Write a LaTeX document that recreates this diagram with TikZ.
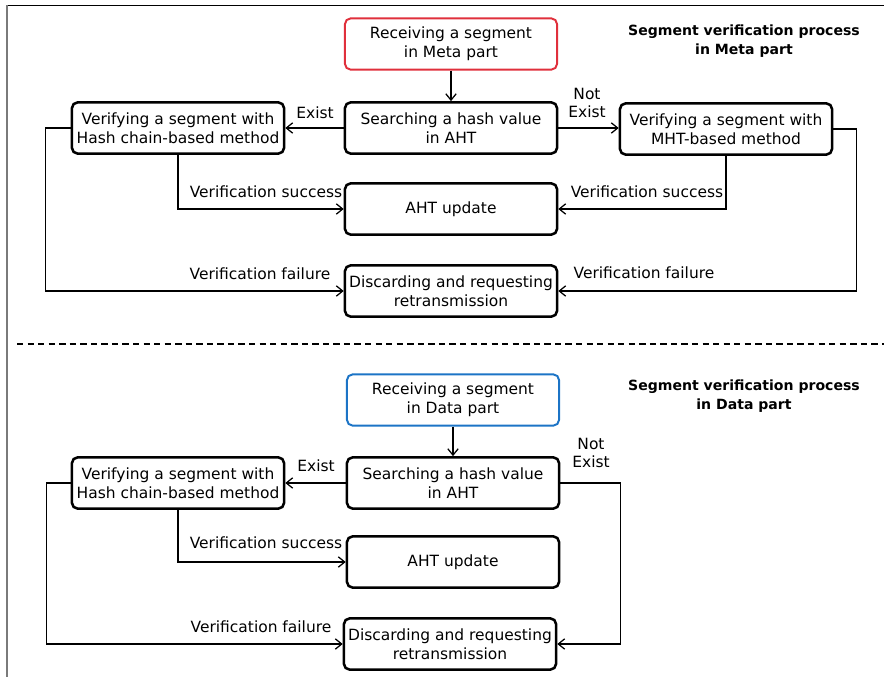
\documentclass[tikz,border=0pt]{standalone}
\usepackage{fontspec}
\setmainfont{DejaVu Sans}
\usetikzlibrary{arrows.meta}
\definecolor{recvred}{HTML}{E0303C}
\definecolor{recvblue}{HTML}{1C74C6}
\definecolor{framegray}{HTML}{7A7A7A}
\tikzset{
  stepbox/.style={rectangle, draw=black, line width=1.8pt, rounded corners=4pt, minimum width=5.3cm, minimum height=1.28cm, align=center, inner sep=1pt, font=\fontsize{11}{13.4}\selectfont},
  recvbox/.style={stepbox, line width=1.4pt},
  arc/.style={-{Straight Barb[length=1.6mm, width=2.6mm, line width=0.9pt]}, draw=black, line width=0.9pt},
  lbl/.style={font=\fontsize{11}{13.4}\selectfont, inner sep=0pt, align=center},
  ttl/.style={font=\fontsize{10}{13}\selectfont\bfseries, inner sep=0pt, align=center},
}
\begin{document}
\begin{tikzpicture}[x=0.025cm,y=-0.025cm]
  \useasboundingbox (0,0) rectangle (884,677);
  % frame and separator
  \draw[black, line width=0.6pt] (6,5) -- (884,5);
  \draw[framegray, line width=1.4pt] (7,5) -- (7,677);
  \draw[black, line width=0.8pt, dash pattern=on 4.5pt off 3pt] (17,344) -- (884,344);

  % Meta part
  \node[ttl] (ttlm) at (744,41) {Segment verification process\\in Meta part};
  \node[recvbox, draw=recvred] (recvm) at (451,44) {Receiving a segment\\in Meta part};
  \node[stepbox] (srchm) at (451,128) {Searching a hash value\\in AHT};
  \node[stepbox] (hashm) at (178,128) {Verifying a segment with\\Hash chain-based method};
  \node[stepbox] (mhtm) at (726,129) {Verifying a segment with\\MHT-based method};
  \node[stepbox] (ahtm) at (451,209) {AHT update};
  \node[stepbox] (discm) at (451,291) {Discarding and requesting\\retransmission};
  \draw[arc] (recvm) -- (srchm);
  \draw[arc] (srchm) -- (hashm);
  \draw[arc] (srchm.east) -- (srchm.east -| mhtm.west);
  \draw[arc] (hashm.south) |- (ahtm.west);
  \draw[arc] (mhtm.south) |- (ahtm.east);
  \draw[arc] (hashm.west) -- ++(-25,0) |- (discm.west);
  \draw[arc] (mhtm.east) -- ++(23,0) |- (discm.east);
  \node[lbl] (exm) at (315,113) {Exist};
  \node[lbl] (nexm) at (587,103) {Not\\Exist};
  \node[lbl] (oklm) at (266,192) {Verification success};
  \node[lbl] (okrm) at (647,192) {Verification success};
  \node[lbl] (badlm) at (260,274) {Verification failure};
  \node[lbl] (badrm) at (644,273) {Verification failure};

  % Data part
  \node[ttl] (ttld) at (744,396) {Segment verification process\\in Data part};
  \node[recvbox, draw=recvblue] (recvd) at (453,400) {Receiving a segment\\in Data part};
  \node[stepbox] (srchd) at (453,483) {Searching a hash value\\in AHT};
  \node[stepbox] (hashd) at (178,483) {Verifying a segment with\\Hash chain-based method};
  \node[stepbox] (ahtd) at (453,562) {AHT update};
  \node[stepbox] (discd) at (450,644) {Discarding and requesting\\retransmission};
  \draw[arc] (recvd) -- (srchd);
  \draw[arc] (srchd) -- (hashd);
  \draw[arc] (hashd.south) |- (ahtd.west);
  \draw[arc] (hashd.west) -- ++(-24,0) |- (discd.west);
  \draw[arc] (srchd.east) -- ++(60,0) |- (discd.east);
  \node[lbl] (exd) at (316,466) {Exist};
  \node[lbl] (nexd) at (591,453) {Not\\Exist};
  \node[lbl] (okld) at (266,543) {Verification success};
  \node[lbl] (badld) at (261,627) {Verification failure};
\end{tikzpicture}
\end{document}
